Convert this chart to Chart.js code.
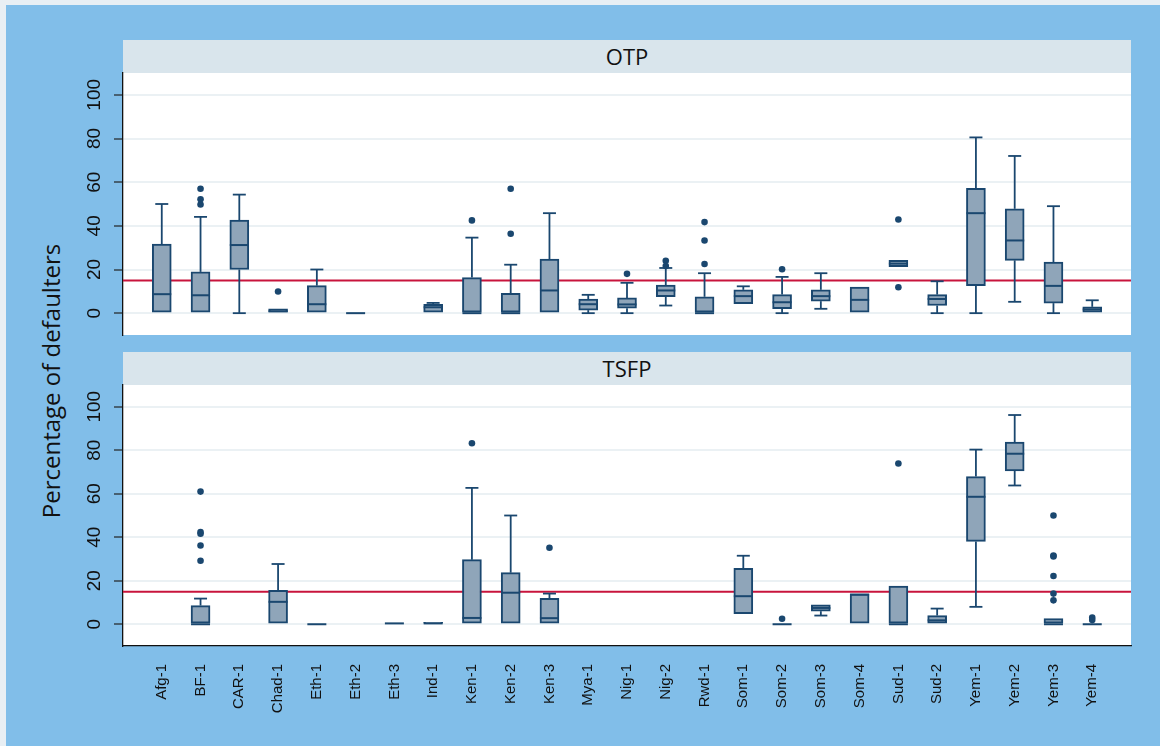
<!DOCTYPE html>
<html>
<head>
<meta charset="utf-8">
<script src="https://cdn.jsdelivr.net/npm/chart.js@4.4.1/dist/chart.umd.min.js"></script>
<style>
  html, body { margin: 0; padding: 0; }
  body { width: 1160px; height: 746px; position: relative; overflow: hidden; background: #81BEE9; }
  #frame { position: absolute; left: 0; top: 0; width: 1160px; height: 746px; box-sizing: border-box;
           border-top: 5px solid #E8EFF4; border-left: 6px solid #E8EFF4; }
  .strip { position: absolute; left: 123px; width: 1008px; height: 33px; background: #D9E5EC;
           font-family: 'Open Sans', sans-serif; font-size: 22px; color: #111; text-align: center; line-height: 33px; }
  canvas { position: absolute; left: 0; }
  #ytitle { position: absolute; left: 50px; top: 381px; transform: translate(-50%, -50%) rotate(-90deg);
            font-family: 'Open Sans', sans-serif; font-size: 24px; color: #111; white-space: nowrap; }
</style>
</head>
<body>
<div id="frame"></div>
<div class="strip" style="top:40px">OTP</div>
<div class="strip" style="top:352px">TSFP</div>
<div id="ytitle">Percentage of defaulters</div>
<canvas id="otp" width="1160" height="302" style="top:53px"></canvas>
<canvas id="tsfp" width="1160" height="381" style="top:365px"></canvas>
<script>
// Programme sites along the x axis
const categories = ['Afg-1','BF-1','CAR-1','Chad-1','Eth-1','Eth-2','Eth-3','Ind-1','Ken-1','Ken-2','Ken-3',
  'Mya-1','Nig-1','Nig-2','Rwd-1','Som-1','Som-2','Som-3','Som-4','Sud-1','Sud-2','Yem-1','Yem-2','Yem-3','Yem-4'];

// OTP: lower whisker, quartiles, median, upper whisker (null = no data for that site)
const otpLow    = [0, 0, 0, 0, 0, 0, null, 0, 0, 0, 0, 0, 0, 3.5, 0, 4.4, 0, 2, 0, 21.3, 0, 0, 5.2, 0, 0];
const otpQ1     = [0, 0, 20, 0, 0, 0, null, 0, 0, 0, 0, 1.4, 2.3, 7.5, 0, 4.4, 2.1, 5.5, 0, 21.3, 3.5, 12.6, 24.2, 4.6, 0];
const otpMedian = [8.7, 8.2, 31.2, 0.9, 4.1, 0, null, 2.7, 0, 0, 10.4, 4.1, 4, 10.4, 0, 7.8, 5, 7.8, 6.1, 22.7, 6.5, 45.8, 33.3, 12.5, 1.7];
const otpQ3     = [31.6, 18.9, 42.6, 2, 12.6, 0, null, 4.1, 16.3, 9.1, 24.8, 6.5, 7, 12.9, 7.5, 10.7, 8.5, 10.7, 12, 24.2, 8.5, 57.2, 47.8, 23.4, 2.9];
const otpHigh   = [50, 44.1, 54.3, 2, 20, 0, null, 4.7, 34.6, 22.2, 45.8, 8.4, 13.9, 20.7, 18.3, 12.3, 16.6, 18.3, 12, 24.2, 14.6, 80.5, 72, 49, 5.9];
const otpOutlierSite  = ['BF-1','BF-1','BF-1','Chad-1','Ken-1','Ken-2','Ken-2','Nig-1','Nig-2','Nig-2','Rwd-1','Rwd-1','Rwd-1','Som-2','Sud-1','Sud-1'];
const otpOutlierValue = [57, 52.2, 49.8, 9.9, 42.5, 57, 36.4, 18, 24, 21.6, 41.7, 33.3, 22.5, 20.1, 42.9, 11.9];

// TSFP
const tsfpLow    = [null, 0, null, 0, 0, null, 0.4, 0, 0, 0, 0, null, null, null, null, 4.9, 0, 4, 0, 0, 0, 8, 63.8, 0, 0];
const tsfpQ1     = [null, 0, null, 0, 0, null, 0.4, 0, 0, 0, 0, null, null, null, null, 4.9, 0, 6, 0, 0, 0, 38.1, 70.5, 0, 0];
const tsfpMedian = [null, 0, null, 10.3, 0, null, 0.4, 0.4, 2.9, 14.5, 2.8, null, null, null, null, 12.9, 0, 7.5, 13.6, 0, 1.8, 58.6, 78.4, 0, 0];
const tsfpQ3     = [null, 8.6, null, 15.6, 0, null, 0.4, 0.9, 29.7, 23.7, 11.9, null, null, null, null, 25.7, 0, 8.9, 14, 17.6, 4, 67.9, 83.7, 2.6, 0];
const tsfpHigh   = [null, 11.8, null, 27.7, 0, null, 0.4, 0.9, 62.7, 50, 14.1, null, null, null, null, 31.5, 0, 8.9, 14, 17.6, 7.2, 80.3, 96.2, 2.6, 0];
const tsfpOutlierSite  = ['BF-1','BF-1','BF-1','BF-1','BF-1','Ken-1','Ken-3','Som-2','Sud-1','Yem-3','Yem-3','Yem-3','Yem-3','Yem-3','Yem-3','Yem-4','Yem-4'];
const tsfpOutlierValue = [61, 42.4, 41.6, 36.2, 29.2, 83.2, 35.2, 2.5, 73.9, 50, 31.6, 31.2, 22.2, 14.1, 11, 3.1, 1.9];

const yTicks = [0, 20, 40, 60, 80, 100];
const cutoff = 15;

const NAVY = '#1A476F';
const BOX_FILL = '#8FA5B9';
const CUT_RED = '#C8143C';

function line(ctx, x1, y1, x2, y2) {
  ctx.beginPath(); ctx.moveTo(x1, y1); ctx.lineTo(x2, y2); ctx.stroke();
}

// Whiskers, medians, cut-off line and white plot background
function boxExtras(stats) {
  return {
    id: 'boxExtras',
    beforeDraw(chart) {
      const { ctx, chartArea: a } = chart;
      ctx.save(); ctx.fillStyle = '#fff';
      ctx.fillRect(a.left, a.top, a.right - a.left, a.bottom - a.top);
      ctx.restore();
    },
    beforeDatasetsDraw(chart) {
      const { ctx, chartArea: a, scales: { x, y } } = chart;
      ctx.save();
      ctx.strokeStyle = CUT_RED; ctx.lineWidth = 2;
      const yc = y.getPixelForValue(cutoff);
      line(ctx, a.left, yc, a.right, yc);
      ctx.strokeStyle = NAVY; ctx.lineWidth = 1.8; ctx.lineCap = 'butt';
      const capHalf = 6.5;
      stats.low.forEach((lo, i) => {
        if (lo == null) return;
        const cx = x.getPixelForValue(i + 1);
        [[stats.q3[i], stats.high[i]], [stats.q1[i], lo]].forEach(([from, to]) => {
          if (from === to) return;
          const p1 = y.getPixelForValue(from), p2 = y.getPixelForValue(to);
          line(ctx, cx, p1, cx, p2);
          line(ctx, cx - capHalf, p2, cx + capHalf, p2);
        });
      });
      ctx.restore();
    },
    afterDatasetsDraw(chart) {
      const { ctx, scales: { x, y } } = chart;
      const bars = chart.getDatasetMeta(0).data;
      const half = bars.length ? bars[0].width / 2 : 9.5;
      ctx.save();
      ctx.strokeStyle = NAVY; ctx.lineWidth = 2;
      stats.median.forEach((m, i) => {
        if (m == null) return;
        const cx = x.getPixelForValue(i + 1);
        const py = y.getPixelForValue(m);
        line(ctx, cx - half, py, cx + half, py);
      });
      ctx.restore();
    }
  };
}

function buildPanel(id, stats, outSite, outValue, showX) {
  const boxes = categories.map((c, i) => stats.q1[i] == null ? null : { x: i + 1, y: [stats.q1[i], stats.q3[i]] })
    .filter(Boolean);
  const outliers = outSite.map((s, k) => ({ x: categories.indexOf(s) + 1, y: outValue[k] }));
  const xScale = {
    type: 'linear', min: 0, max: 26, offset: false,
    afterBuildTicks: s => { s.ticks = categories.map((c, i) => ({ value: i + 1 })); },
    display: showX
  };
  if (showX) {
    Object.assign(xScale, {
      afterFit: s => { s.height = 100; },
      ticks: { autoSkip: false, minRotation: 90, maxRotation: 90, padding: 10, color: '#111',
               font: { family: "'Liberation Sans', Arial, sans-serif", size: 15 },
               callback: v => categories[v - 1] },
      grid: { display: false },
      border: { display: true, color: '#111', width: 1.3 }
    });
  }
  return new Chart(document.getElementById(id), {
    type: 'bar',
    data: {
      datasets: [
        { data: boxes, backgroundColor: BOX_FILL, borderColor: NAVY, borderWidth: 2,
          borderSkipped: false, barThickness: 19, grouped: false },
        { type: 'scatter', data: outliers, pointRadius: 3.3, backgroundColor: NAVY,
          pointBackgroundColor: NAVY, borderWidth: 0, pointBorderWidth: 0 }
      ]
    },
    options: {
      responsive: false, animation: false, events: [],
      layout: { padding: { left: 73, right: 29, top: 20, bottom: showX ? 0 : 20 } },
      plugins: { legend: { display: false }, tooltip: { enabled: false } },
      scales: {
        x: xScale,
        y: {
          min: -10, max: 110,
          afterBuildTicks: s => { s.ticks = yTicks.map(v => ({ value: v })); },
          afterFit: s => { s.width = 50; },
          ticks: { minRotation: 90, maxRotation: 90, crossAlign: 'center', padding: 3, color: '#111',
                   font: { family: "'Liberation Sans', Arial, sans-serif", size: 19 } },
          grid: { color: '#EBF1F4', lineWidth: 2, tickColor: '#222', tickWidth: 1.2, tickLength: 9 },
          border: { display: true, color: '#111', width: 1.3 }
        }
      }
    },
    plugins: [boxExtras(stats)]
  });
}

buildPanel('otp',
  { low: otpLow, q1: otpQ1, median: otpMedian, q3: otpQ3, high: otpHigh },
  otpOutlierSite, otpOutlierValue, false);
buildPanel('tsfp',
  { low: tsfpLow, q1: tsfpQ1, median: tsfpMedian, q3: tsfpQ3, high: tsfpHigh },
  tsfpOutlierSite, tsfpOutlierValue, true);
</script>
</body>
</html>
